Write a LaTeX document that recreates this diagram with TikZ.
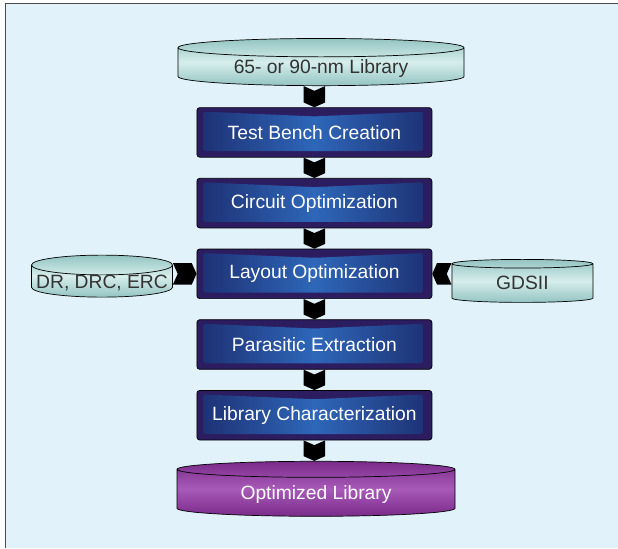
\documentclass[tikz,border=0pt]{standalone}
\usepackage{fontspec}
\setmainfont{Liberation Sans}
\usetikzlibrary{shapes.geometric,positioning,calc}

\definecolor{bgblue}{HTML}{E1F2FA}
\definecolor{tealA}{HTML}{D6EEEC}
\definecolor{tealB}{HTML}{93C4C2}
\definecolor{navy}{HTML}{2C1C60}
\definecolor{blueA}{HTML}{2E67B9}
\definecolor{blueB}{HTML}{1D2F72}
\definecolor{plumA}{HTML}{A85AB8}
\definecolor{plumB}{HTML}{7A2B8A}

\tikzset{
  db/.style={cylinder, shape border rotate=90, aspect=0.1, draw=black, line width=0.5pt,
    shade, top color=tealB, bottom color=tealB, middle color=tealA,
    text=black!80, inner ysep=0pt, text height=0pt, text depth=0pt,
    execute at begin node={\lower0.14cm\hbox\bgroup}, execute at end node={\egroup},
    font=\fontsize{13.7}{16}\selectfont},
  stage/.style={rectangle, rounded corners=2pt, draw=black, line width=0.5pt, fill=navy,
    minimum width=5.875cm, minimum height=1.24cm, text=white,
    font=\fontsize{13.7}{16}\selectfont,
    path picture={
      \shade[left color=blueB, right color=blueB, middle color=blueA]
        ($(path picture bounding box.north west)+(0.15,-0.1)$)
        -- ($(path picture bounding box.north)+(0,-0.22)$)
        -- ($(path picture bounding box.north east)+(-0.22,-0.1)$)
        -- ($(path picture bounding box.south east)+(-0.22,0.15)$)
        -- ($(path picture bounding box.south west)+(0.15,0.15)$) -- cycle;
    }},
  chev/.style={fill=black}
}

% chevron connector from #1 to #2
\newcommand{\chevron}[2]{%
  \coordinate (ca) at (#1);
  \coordinate (cb) at (#2);
  \coordinate (cn) at ($(ca)!0.12cm!(cb)$);
  \coordinate (cm) at ($(cb)!0.12cm!(ca)$);
  \fill[chev] ($(ca)!0.27cm!90:(cb)$) -- (cn) -- ($(ca)!0.27cm!-90:(cb)$)
    -- ($(cm)!0.27cm!-90:(cb)$) -- (cb) -- ($(cm)!0.27cm!90:(cb)$) -- cycle;
}

\begin{document}
\begin{tikzpicture}
  \useasboundingbox (0,0) rectangle (15.45,-13.7);

  % Frame
  \fill[bgblue] (0.14,-0.08) rectangle (15.45,-13.7);
  \draw[black!70, line width=0.8pt] (0.14,-13.7) -- (0.14,-0.08) -- (15.45,-0.08);

  % Flow
  \node[db, minimum width=7.15cm, minimum height=1.18cm] (lib) at (8.025,-1.70) {65- or 90-nm Library};
  \node[stage] (s1) at (7.86,-3.31) {Test Bench Creation};
  \node[stage, below=0.51cm of s1] (s2) {Circuit Optimization};
  \node[stage, below=0.51cm of s2] (s3) {Layout Optimization};
  \node[stage, below=0.51cm of s3] (s4) {Parasitic Extraction};
  \node[stage, below=0.51cm of s4] (s5) {Library Characterization};
  \node[db, minimum width=6.95cm, minimum height=1.375cm, top color=plumB, bottom color=plumB,
    middle color=plumA, text=white] (olib) at (7.9,-12.35) {Optimized Library};

  % Side inputs
  \node[db, aspect=0.14, minimum width=3.5cm, minimum height=1.05cm] (rules) at (2.55,-7.075) {DR, DRC, ERC};
  \node[db, aspect=0.14, minimum width=3.525cm, minimum height=1.075cm] (gds) at (13.06,-7.1) {GDSII};

  % Arrows
  \chevron{s1.north |- lib.south}{s1.north}
  \foreach \a/\b in {s1/s2, s2/s3, s3/s4, s4/s5}
    {\chevron{\a.south}{\b.north}}
  \chevron{s5.south}{s5.south |- olib.north}
  \chevron{rules.east |- s3.west}{s3.west}
  \chevron{gds.west |- s3.east}{s3.east}
\end{tikzpicture}
\end{document}
